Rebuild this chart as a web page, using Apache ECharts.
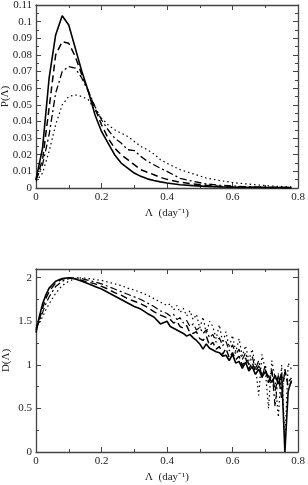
<!DOCTYPE html>
<html>
<head>
<meta charset="utf-8">
<script src="https://cdn.jsdelivr.net/npm/echarts@6/dist/echarts.min.js"></script>
<style>
  html, body { margin: 0; padding: 0; background: #fff; }
  #chart { width: 308px; height: 485px; }
</style>
</head>
<body>
<div id="chart"></div>
<script>
// ------------------------------
// data : P(lambda), top panel
// ------------------------------
var lambdaP = [0, 0.02, 0.04, 0.06, 0.08, 0.10, 0.12, 0.14, 0.16, 0.18, 0.20, 0.22, 0.24, 0.26, 0.28, 0.30,
    0.32, 0.34, 0.36, 0.38, 0.40, 0.44, 0.48, 0.52, 0.56, 0.60, 0.64, 0.68, 0.72, 0.76, 0.78];
var pSolid = [0.005, 0.024, 0.066, 0.092, 0.1035, 0.098, 0.084, 0.070, 0.058, 0.044, 0.034, 0.027, 0.020, 0.015, 0.012, 0.009,
    0.007, 0.0055, 0.0045, 0.0037, 0.003, 0.002, 0.0014, 0.001, 0.0007, 0.0005, 0.0004, 0.0003, 0.0002, 0.0002, 0.0001];
var pDashed = [0.005, 0.017, 0.048, 0.080, 0.088, 0.087, 0.079, 0.068, 0.058, 0.048, 0.038, 0.030, 0.024, 0.020, 0.017, 0.014,
    0.011, 0.0095, 0.008, 0.0064, 0.0052, 0.0035, 0.0024, 0.0016, 0.001, 0.0007, 0.0005, 0.0004, 0.0003, 0.0002, 0.0002];
var pDashDot = [0.005, 0.014, 0.032, 0.057, 0.070, 0.073, 0.072, 0.066, 0.058, 0.049, 0.041, 0.035, 0.030, 0.027, 0.023, 0.0225,
    0.019, 0.016, 0.014, 0.0118, 0.010, 0.0058, 0.004, 0.0024, 0.0017, 0.0012, 0.0008, 0.0006, 0.0004, 0.0003, 0.0003];
var pDotted = [0.004, 0.009, 0.022, 0.038, 0.050, 0.055, 0.056, 0.055, 0.053, 0.047, 0.042, 0.038, 0.035, 0.033, 0.031, 0.028,
    0.025, 0.023, 0.0205, 0.017, 0.0148, 0.011, 0.0085, 0.006, 0.0045, 0.0033, 0.0025, 0.0018, 0.0012, 0.0008, 0.0006];

// ------------------------------
// data : D(lambda), bottom panel
// ------------------------------
var lambdaD = [0, 0.01, 0.02, 0.03, 0.04, 0.06, 0.08, 0.10, 0.12, 0.14, 0.16, 0.18, 0.20, 0.22, 0.24, 0.26, 0.28, 0.30,
    0.32, 0.34, 0.36, 0.38, 0.40,
    0.41, 0.42, 0.43, 0.44, 0.45, 0.46, 0.47, 0.48, 0.49, 0.50, 0.51, 0.52, 0.53, 0.54, 0.55, 0.56, 0.57, 0.58, 0.59,
    0.60, 0.61, 0.62, 0.63, 0.64, 0.65, 0.66, 0.67, 0.68, 0.69, 0.70, 0.71, 0.72, 0.73, 0.74, 0.75, 0.76, 0.77, 0.78];
var dSolid = [1.37, 1.55, 1.70, 1.80, 1.88, 1.96, 1.99, 2.0, 1.985, 1.96, 1.93, 1.90, 1.87, 1.83, 1.79, 1.75, 1.71, 1.67,
    1.64, 1.59, 1.55, 1.47, 1.50,
    1.44, 1.42, 1.40, 1.38, 1.36, 1.33, 1.35, 1.31, 1.28, 1.24, 1.18, 1.24, 1.19, 1.17, 1.15, 1.14, 1.10, 1.11, 1.05,
    1.12, 1.02, 1.04, 0.96, 1.03, 0.93, 0.98, 0.89, 0.95, 0.86, 0.92, 0.87, 0.80, 0.88, 0.78, 0.90, 0.0, 0.70, 0.82];
var dDashed = [1.40, 1.52, 1.65, 1.76, 1.84, 1.94, 1.985, 2.0, 1.99, 1.97, 1.95, 1.93, 1.90, 1.87, 1.83, 1.80, 1.76, 1.73,
    1.70, 1.66, 1.61, 1.57, 1.54,
    1.52, 1.48, 1.50, 1.44, 1.42, 1.45, 1.37, 1.36, 1.38, 1.30, 1.28, 1.33, 1.22, 1.26, 1.18, 1.21, 1.12, 1.19, 1.08,
    1.14, 1.06, 1.10, 0.99, 1.08, 0.95, 1.03, 0.92, 0.99, 0.88, 0.95, 0.80, 0.92, 0.70, 0.88, 0.62, 0.95, 0.75, 0.80];
var dDashDot = [1.42, 1.50, 1.60, 1.70, 1.78, 1.90, 1.96, 1.99, 2.0, 1.99, 1.97, 1.95, 1.93, 1.90, 1.87, 1.84, 1.81, 1.78,
    1.75, 1.71, 1.67, 1.62, 1.59,
    1.56, 1.58, 1.52, 1.54, 1.48, 1.51, 1.44, 1.47, 1.40, 1.43, 1.36, 1.40, 1.31, 1.35, 1.26, 1.31, 1.22, 1.27, 1.16,
    1.23, 1.12, 1.18, 1.06, 1.14, 1.00, 1.10, 0.95, 1.05, 0.85, 1.00, 0.78, 0.96, 0.52, 0.90, 0.70, 0.92, 0.80, 0.85];
var dDotted = [1.45, 1.48, 1.55, 1.63, 1.70, 1.82, 1.91, 1.96, 1.99, 2.0, 1.99, 1.98, 1.97, 1.95, 1.93, 1.91, 1.88, 1.86,
    1.83, 1.80, 1.76, 1.72, 1.68,
    1.70, 1.63, 1.68, 1.60, 1.65, 1.56, 1.62, 1.52, 1.58, 1.42, 1.55, 1.36, 1.50, 1.44, 1.30, 1.46, 1.25, 1.38, 1.20,
    1.34, 1.15, 1.30, 1.10, 1.22, 1.05, 1.18, 1.00, 0.65, 1.12, 0.95, 0.50, 1.05, 0.85, 0.40, 1.00, 0.12, 1.02, 0.95];

var xName = 'Λ  (day⁻¹)';

function pairs(xs, ys) {
    return xs.map(function (x, i) { return [x, ys[i]]; });
}

var font = "'Liberation Serif', 'Times New Roman', serif";
var ink = '#222';

function frameAxis(gridIndex, pos, opts) {
    var a = {
        gridIndex: gridIndex,
        type: 'value',
        position: pos,
        nameMoveOverlap: false,
        axisLine: { show: true, onZero: false, lineStyle: { color: '#444', width: 1.3 } },
        axisTick: { show: true, inside: true, length: 5, lineStyle: { color: '#444' } },
        minorTick: { show: true, splitNumber: 2, length: 3, lineStyle: { color: '#444' } },
        splitLine: { show: false },
        axisLabel: { show: false }
    };
    for (var k in opts) a[k] = opts[k];
    return a;
}

var labelStyle = { show: true, fontFamily: font, fontSize: 11, color: ink };
var nameStyle = { fontFamily: font, fontSize: 11, color: ink };

var chart = echarts.init(document.getElementById('chart'), null, { renderer: 'canvas' });

var option = {
    animation: false,
    backgroundColor: '#fff',
    grid: [
        { left: 36, top: 5, width: 262, height: 183, outerBoundsMode: 'none', containLabel: false },
        { left: 36, top: 269, width: 262, height: 183, outerBoundsMode: 'none', containLabel: false }
    ],
    xAxis: [
        frameAxis(0, 'bottom', { min: 0, max: 0.8, interval: 0.2,
            axisLabel: Object.assign({ margin: 4 }, labelStyle),
            name: xName, nameLocation: 'middle', nameGap: 20, nameTextStyle: nameStyle }),
        frameAxis(0, 'top', { min: 0, max: 0.8, interval: 0.2 }),
        frameAxis(1, 'bottom', { min: 0, max: 0.8, interval: 0.2,
            axisLabel: Object.assign({ margin: 4 }, labelStyle),
            name: xName, nameLocation: 'middle', nameGap: 20, nameTextStyle: nameStyle }),
        frameAxis(1, 'top', { min: 0, max: 0.8, interval: 0.2 })
    ],
    yAxis: [
        frameAxis(0, 'left', { min: 0, max: 0.11, interval: 0.01,
            axisLabel: Object.assign({ margin: 4 }, labelStyle),
            name: 'P(Λ)', nameLocation: 'middle', nameGap: 25, nameTextStyle: nameStyle }),
        frameAxis(0, 'right', { min: 0, max: 0.11, interval: 0.01 }),
        frameAxis(1, 'left', { min: 0, max: 2.1, interval: 0.5,
            axisLabel: Object.assign({ margin: 4, showMaxLabel: false }, labelStyle),
            name: 'D(Λ)', nameLocation: 'middle', nameGap: 24, nameTextStyle: nameStyle }),
        frameAxis(1, 'right', { min: 0, max: 2.1, interval: 0.5 })
    ],
    series: [
        { type: 'line', xAxisIndex: 0, yAxisIndex: 0, data: pairs(lambdaP, pSolid), showSymbol: false,
          lineStyle: { color: '#000', width: 1.6, type: 'solid' } },
        { type: 'line', xAxisIndex: 0, yAxisIndex: 0, data: pairs(lambdaP, pDashed), showSymbol: false,
          lineStyle: { color: '#000', width: 1.5, type: [7, 4] } },
        { type: 'line', xAxisIndex: 0, yAxisIndex: 0, data: pairs(lambdaP, pDashDot), showSymbol: false,
          lineStyle: { color: '#000', width: 1.3, type: [7, 3, 2, 3] } },
        { type: 'line', xAxisIndex: 0, yAxisIndex: 0, data: pairs(lambdaP, pDotted), showSymbol: false,
          lineStyle: { color: '#000', width: 1.2, type: [1.5, 3] } },

        { type: 'line', xAxisIndex: 2, yAxisIndex: 2, data: pairs(lambdaD, dSolid), showSymbol: false,
          lineStyle: { color: '#000', width: 1.6, type: 'solid' } },
        { type: 'line', xAxisIndex: 2, yAxisIndex: 2, data: pairs(lambdaD, dDashed), showSymbol: false,
          lineStyle: { color: '#000', width: 1.4, type: [7, 4] } },
        { type: 'line', xAxisIndex: 2, yAxisIndex: 2, data: pairs(lambdaD, dDashDot), showSymbol: false,
          lineStyle: { color: '#000', width: 1.2, type: [7, 3, 2, 3] } },
        { type: 'line', xAxisIndex: 2, yAxisIndex: 2, data: pairs(lambdaD, dDotted), showSymbol: false,
          lineStyle: { color: '#000', width: 1.2, type: [1.5, 3] } }
    ]
};

chart.setOption(option);
</script>
</body>
</html>
